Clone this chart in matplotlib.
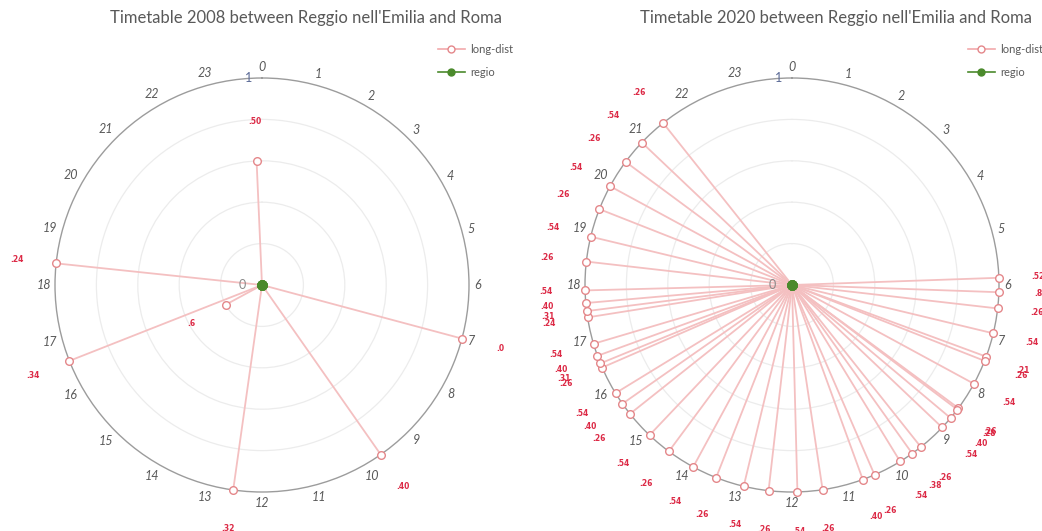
import numpy as np
import matplotlib

matplotlib.use("Agg")
import matplotlib.pyplot as plt
from matplotlib.lines import Line2D


FONT = "Lato"
GREY_TEXT = "#595959"
SPOKE_COLOR = "#f4c0c1"
MARKER_EDGE = "#e4878a"
LABEL_COLOR = "#dc2a46"
REGIO_COLOR = "#4b8a2c"
RADIUS_PX = 207.0

# long-distance departures 2008: hour, minute and plotted value
HOURS_2008 = [23, 16, 18, 16, 12, 7, 9]
MINUTES_2008 = [50, 6, 24, 34, 32, 0, 40]
VALUES_2008 = [0.6, 0.2, 1, 1, 1, 1, 1]

# long-distance departures 2020
HOURS_2020 = [5, 6, 6, 6, 7, 7, 7, 8, 8, 8, 8, 9, 9, 9, 10, 10, 11, 11,
              12, 12, 13, 13, 14, 14, 15, 15, 15, 16, 16, 16, 16, 17, 17,
              17, 17, 18, 18, 19, 19, 20, 20, 21]
MINUTES_2020 = [52, 8, 26, 54, 21, 26, 54, 26, 28, 40, 54, 26, 38, 54, 26, 40, 26, 54,
                26, 54, 26, 54, 26, 54, 26, 40, 54, 26, 31, 40, 54, 24, 31,
                40, 54, 26, 54, 26, 54, 26, 54, 26]
VALUES_2020 = [1] * len(HOURS_2020)

# regional trains sit on the zero ring
REGIO_HOURS = [6, 8, 10, 12, 14, 16, 18, 20]
REGIO_MINUTES = [0, 0, 0, 0, 0, 0, 0, 0]
REGIO_VALUES = [0, 0, 0, 0, 0, 0, 0, 0]

HOUR_TICKS = list(range(24))


def toTheta(hours, minutes):
    return (np.asarray(hours) + np.asarray(minutes) / 60.0) / 24.0 * 2 * np.pi


def drawClock(ax, hours, minutes, values):
    ax.set_theta_zero_location("N")
    ax.set_theta_direction(-1)
    ax.set_ylim(0, 1)
    ax.set_xticks([])
    ax.xaxis.grid(False)
    ax.set_yticks([0.2, 0.4, 0.6, 0.8])
    ax.set_yticklabels([])
    ax.yaxis.grid(True, color="#ececec", linewidth=0.9)
    ax.spines["polar"].set_color("#9c9c9c")
    ax.spines["polar"].set_linewidth(1.0)
    ax.set_facecolor("white")

    # hour labels keep a constant gap to the rim, wider labels sit further out
    for hour in HOUR_TICKS:
        theta = toTheta(hour, 0)
        label = str(hour)
        gap = 212 + 3.2 * len(label) * abs(np.sin(theta)) + 6 * abs(np.cos(theta))
        ax.text(theta, gap / RADIUS_PX, label, ha="center", va="center",
                fontsize=9, style="italic", color=GREY_TEXT, family=FONT, clip_on=False)

    ax.annotate("0", xy=(0, 0), xytext=(-14, 0), textcoords="offset points", ha="center",
                va="center", fontsize=9, color="#8a8a8a", family=FONT)
    ax.annotate("1", xy=(0, 1), xytext=(-10, 0), textcoords="offset points", ha="center",
                va="center", fontsize=9, color="#5b6a96", family=FONT, annotation_clip=False)

    theta = toTheta(hours, minutes)
    for t, r in zip(theta, values):
        ax.plot([t, t], [0, r], color=SPOKE_COLOR, linewidth=1.3, zorder=2)
    ax.plot(theta, values, linestyle="none", marker="o", markersize=5.5, markerfacecolor="white",
            markeredgecolor=MARKER_EDGE, markeredgewidth=1.0, zorder=4, clip_on=False)

    for t, r, minute in zip(theta, values, minutes):
        ax.text(t, r + 0.19, f".{minute}", ha="center", va="center", fontsize=5.5,
                fontweight="bold", color=LABEL_COLOR, family="DejaVu Sans", clip_on=False)

    regioTheta = toTheta(REGIO_HOURS, REGIO_MINUTES)
    ax.plot(regioTheta, REGIO_VALUES, linestyle="none", marker="o", markersize=6.5,
            color=REGIO_COLOR, zorder=5)


fig = plt.figure(figsize=(10.42, 5.31), dpi=100)
fig.patch.set_facecolor("white")

panels = [
    (55, 306, 438, "Timetable 2008 between Reggio nell'Emilia and Roma",
     HOURS_2008, MINUTES_2008, VALUES_2008),
    (585, 836, 968, "Timetable 2020 between Reggio nell'Emilia and Roma",
     HOURS_2020, MINUTES_2020, VALUES_2020),
]

legendHandles = [
    Line2D([], [], color="#f2a9ab", linewidth=1.2, marker="o", markersize=5,
           markerfacecolor="white", markeredgecolor=MARKER_EDGE),
    Line2D([], [], color=REGIO_COLOR, linewidth=1.2, marker="o", markersize=5),
]

for left, titleX, legendX, title, hours, minutes, values in panels:
    ax = fig.add_axes([left / 1042, 39 / 531, 414 / 1042, 414 / 531], projection="polar")
    drawClock(ax, hours, minutes, values)
    fig.text(titleX / 1042, 1 - 18 / 531, title, ha="center", va="center",
             fontsize=12, color=GREY_TEXT, family=FONT)
    fig.legend(legendHandles, ["long-dist", "regio"], loc="upper left",
               bbox_to_anchor=(legendX / 1042, 1 - 44 / 531), frameon=False,
               prop={"family": FONT, "size": 8}, labelcolor=GREY_TEXT,
               handlelength=2.4, handletextpad=0.5, labelspacing=1.1,
               borderaxespad=0, borderpad=0)

fig.savefig("out.png", dpi=100, facecolor="white")
